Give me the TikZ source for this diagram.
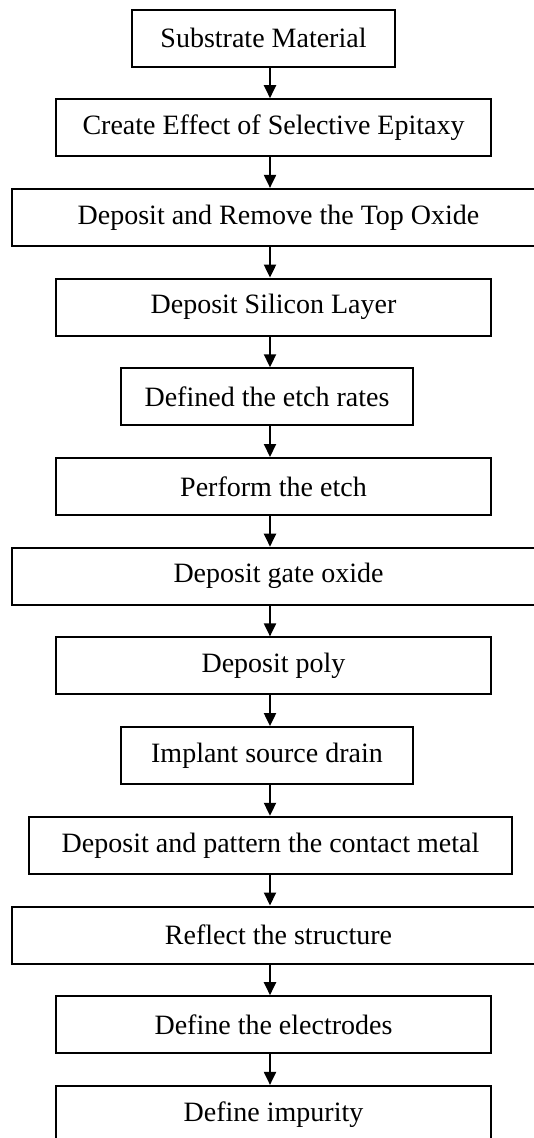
\documentclass[tikz,border=0pt]{standalone}
\usepackage{fontspec}
\setmainfont{Liberation Serif}
\usetikzlibrary{arrows.meta}

\begin{document}
\begin{tikzpicture}[x=1pt,y=-1pt]
    \tikzstyle{every node}=[font=\fontsize{28}{32}\selectfont]
    \tikzstyle{stepbox}=[draw, line width=2pt, minimum height=57pt, inner sep=0pt]
    \tikzstyle{flow}=[line width=2pt, -{Triangle[length=13pt,width=12pt]}]
    \useasboundingbox (0,0) rectangle (534,1138);
    \coordinate (col) at (270,0);

    \node[stepbox, minimum width=263pt] (subst) at (263.5,38) {Substrate Material};
    \node[stepbox, minimum width=435pt] (epi) at (273.5,127.7) {Create Effect of Selective Epitaxy};
    \node[stepbox, minimum width=533pt] (topox) at (278.5,217.4) {Deposit and Remove the Top Oxide};
    \node[stepbox, minimum width=435pt] (silicon) at (273.5,307.1) {Deposit Silicon Layer};
    \node[stepbox, minimum width=292pt] (rates) at (267,396.8) {Defined the etch rates};
    \node[stepbox, minimum width=435pt] (etch) at (273.5,486.5) {Perform the etch};
    \node[stepbox, minimum width=533pt] (gateox) at (278.5,576.2) {Deposit gate oxide};
    \node[stepbox, minimum width=435pt] (poly) at (273.5,665.9) {Deposit poly};
    \node[stepbox, minimum width=292pt] (implant) at (267,755.6) {Implant source drain};
    \node[stepbox, minimum width=483pt] (metal) at (270.5,845.3) {Deposit and pattern the contact metal};
    \node[stepbox, minimum width=533pt] (reflect) at (278.5,935) {Reflect the structure};
    \node[stepbox, minimum width=435pt] (electr) at (273.5,1024.7) {Define the electrodes};
    \node[stepbox, minimum width=435pt] (impur) at (273.5,1114.4) {Define impurity};

    \draw[flow] (subst.south -| col) -- (epi.north -| col);
    \draw[flow] (epi.south -| col) -- (topox.north -| col);
    \draw[flow] (topox.south -| col) -- (silicon.north -| col);
    \draw[flow] (silicon.south -| col) -- (rates.north -| col);
    \draw[flow] (rates.south -| col) -- (etch.north -| col);
    \draw[flow] (etch.south -| col) -- (gateox.north -| col);
    \draw[flow] (gateox.south -| col) -- (poly.north -| col);
    \draw[flow] (poly.south -| col) -- (implant.north -| col);
    \draw[flow] (implant.south -| col) -- (metal.north -| col);
    \draw[flow] (metal.south -| col) -- (reflect.north -| col);
    \draw[flow] (reflect.south -| col) -- (electr.north -| col);
    \draw[flow] (electr.south -| col) -- (impur.north -| col);

\end{tikzpicture}
\end{document}
